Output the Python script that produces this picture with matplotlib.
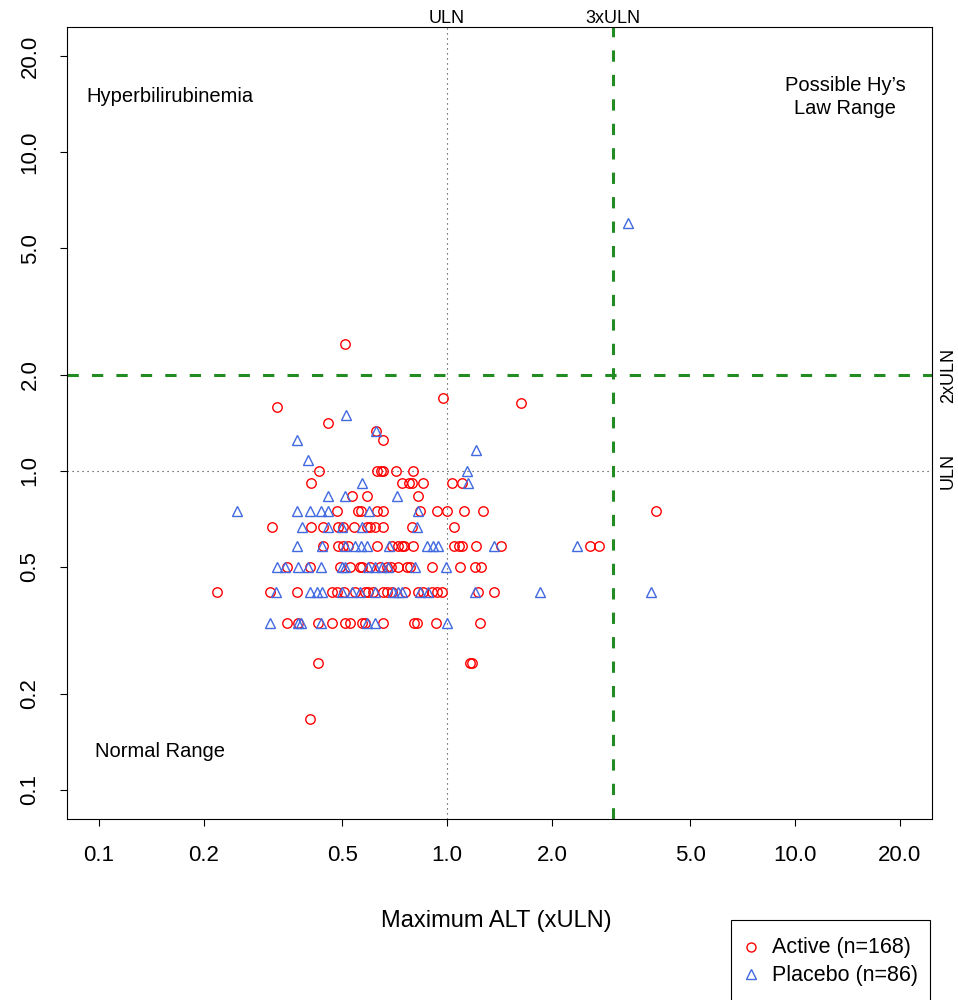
import numpy as np
import matplotlib.pyplot as plt
from matplotlib.lines import Line2D
from matplotlib.patches import Rectangle
from matplotlib.ticker import NullLocator

plt.rcParams['font.family'] = ['Liberation Sans', 'DejaVu Sans']

# peak total bilirubin (xULN) levels and the peak ALT (xULN) values at each level
active_bili = [0.167, 0.25, 0.333, 0.417, 0.5, 0.583, 0.667, 0.75, 0.833,
               0.917, 1.0, 1.25, 1.333, 1.417, 1.583, 1.63, 1.7, 2.5]
active_alt = [
    [0.404],
    [0.426, 1.165, 1.18],
    [0.347, 0.373, 0.426, 0.467, 0.509, 0.526, 0.570, 0.581, 0.655, 0.804, 0.820, 0.930, 1.24],
    [0.218, 0.310, 0.371, 0.467, 0.483, 0.506, 0.544, 0.581, 0.593, 0.613, 0.655, 0.672,
     0.695, 0.757, 0.825, 0.853, 0.906, 0.936, 0.968, 1.23, 1.36],
    [0.347, 0.404, 0.493, 0.526, 0.562, 0.570, 0.601, 0.642, 0.672, 0.690, 0.723, 0.767,
     0.783, 0.906, 1.09, 1.20, 1.25],
    [0.440, 0.487, 0.503, 0.519, 0.630, 0.695, 0.723, 0.743, 0.752, 0.799, 1.05, 1.08,
     1.10, 1.21, 1.43, 2.58, 2.73],
    [0.314, 0.407, 0.440, 0.487, 0.503, 0.540, 0.589, 0.601, 0.621, 0.655, 0.793, 1.05],
    [0.483, 0.555, 0.566, 0.630, 0.655, 0.836, 0.936, 1.0, 1.12, 1.27, 3.99],
    [0.533, 0.589, 0.825],
    [0.407, 0.743, 0.778, 0.793, 0.853, 1.03, 1.10],
    [0.429, 0.630, 0.645, 0.655, 0.714, 0.799],
    [0.655],
    [0.625],
    [0.455],
    [0.325],
    [1.63],
    [0.974],
    [0.509],
]

placebo_bili = [0.333, 0.417, 0.5, 0.583, 0.667, 0.75, 0.833, 0.917, 1.0,
                1.083, 1.167, 1.25, 1.333, 1.5, 6.0]
placebo_alt = [
    [0.310, 0.373, 0.380, 0.435, 0.589, 0.621, 1.0],
    [0.322, 0.404, 0.424, 0.437, 0.500, 0.533, 0.562, 0.621, 0.700, 0.723, 0.743, 0.836,
     0.882, 1.20, 1.85, 3.86],
    [0.325, 0.342, 0.373, 0.399, 0.435, 0.500, 0.509, 0.593, 0.621, 0.651, 0.677, 0.809, 0.993],
    [0.371, 0.437, 0.509, 0.544, 0.566, 0.589, 0.681, 0.876, 0.912, 0.943, 1.36, 2.36],
    [0.383, 0.455, 0.500, 0.570, 0.820],
    [0.249, 0.371, 0.404, 0.435, 0.455, 0.597, 0.825],
    [0.455, 0.509, 0.718],
    [0.570, 1.15],
    [1.14],
    [0.399],
    [1.21],
    [0.371],
    [0.625],
    [0.513],
    [3.31],
]

n_active = 168
n_placebo = 86

ticks = [0.1, 0.2, 0.5, 1, 2, 5, 10, 20]
tick_labels = ['0.1', '0.2', '0.5', '1.0', '2.0', '5.0', '10.0', '20.0']


def flatten(levels, groups):
    x = np.concatenate([np.asarray(g, float) for g in groups])
    y = np.concatenate([np.full(len(g), lv) for lv, g in zip(levels, groups)])
    return x, y


act_x, act_y = flatten(active_bili, active_alt)
pbo_x, pbo_y = flatten(placebo_bili, placebo_alt)

fig = plt.figure(figsize=(9.58, 10), dpi=100)
ax = fig.add_axes([67 / 958, 1 - 819 / 1000, (932 - 67) / 958, (819 - 27) / 1000])

# R-style 4% padding on log axes
lo, hi = np.log10(0.1), np.log10(20)
pad = 0.04 * (hi - lo)
lims = (10 ** (lo - pad), 10 ** (hi + pad))
ax.set_xscale('log')
ax.set_yscale('log')
ax.set_xlim(lims)
ax.set_ylim(lims)
ax.set_xticks(ticks, tick_labels)
ax.set_yticks(ticks, tick_labels)
ax.xaxis.set_minor_locator(NullLocator())
ax.yaxis.set_minor_locator(NullLocator())
ax.tick_params(direction='out', length=5, width=0.8, labelsize=16, pad=14)
ax.tick_params(axis='y', labelrotation=90)
for lbl in ax.get_yticklabels():
    lbl.set_va('center')
for s in ax.spines.values():
    s.set_linewidth(0.8)

# reference lines
dot = (0, (1, 3.5))
ax.axvline(1, color='#333333', lw=0.8, ls=dot, zorder=1)
ax.axhline(1, color='#333333', lw=0.8, ls=dot, zorder=1)
dash = (0, (3.7, 4.3))
ax.axvline(3, color='#228B22', lw=2.2, ls=dash, zorder=1)
ax.axhline(2, color='#228B22', lw=2.2, ls=dash, zorder=1)

ax.plot(act_x, act_y, ls='none', marker='o', ms=6.8, mfc='none', mec='red', mew=1.0, zorder=3)
ax.plot(pbo_x, pbo_y, ls='none', marker='^', ms=7.5, mfc='none', mec='royalblue', mew=1.0, zorder=3)

# quadrant labels
ax.text(0.16, 15, 'Hyperbilirubinemia', ha='center', va='center', fontsize=14.5)
ax.text(13.9, 14.9, 'Possible Hy\u2019s\nLaw Range', ha='center', va='center',
        fontsize=14.5, linespacing=1.3)
ax.text(0.15, 0.132, 'Normal Range', ha='center', va='center', fontsize=14.5)

# margin labels for the cut-offs
for xv, lab in [(1, 'ULN'), (3, '3xULN')]:
    ax.annotate(lab, xy=(xv, 1), xycoords=('data', 'axes fraction'), xytext=(0, 3),
                textcoords='offset points', ha='center', va='baseline', fontsize=13)
for yv, lab in [(2, '2xULN'), (1, 'ULN')]:
    ax.annotate(lab, xy=(1, yv), xycoords=('axes fraction', 'data'), xytext=(5.5, 0),
                textcoords='offset points', ha='left', va='center', rotation=90, fontsize=13)

fig.text(496 / 958, 1 - 921 / 1000, 'Maximum ALT (xULN)', ha='center', va='center', fontsize=17)

# legend box, running off the bottom of the figure
fig.add_artist(Rectangle((731 / 958, -0.05), (930 - 731) / 958, 0.05 + 1 - 920 / 1000,
                         transform=fig.transFigure, fill=False, lw=0.8, ec='black', clip_on=False))
fig.add_artist(Line2D([751 / 958], [1 - 947 / 1000], transform=fig.transFigure, ls='none',
                      marker='o', ms=6.5, mfc='none', mec='red', mew=1.0))
fig.add_artist(Line2D([751 / 958], [1 - 974 / 1000], transform=fig.transFigure, ls='none',
                      marker='^', ms=7.5, mfc='none', mec='royalblue', mew=1.0))
fig.text(772 / 958, 1 - 947 / 1000, f'Active (n={n_active})', ha='left', va='center', fontsize=15.5)
fig.text(772 / 958, 1 - 975 / 1000, f'Placebo (n={n_placebo})', ha='left', va='center', fontsize=15.5)

fig.savefig('out.png', dpi=100)
